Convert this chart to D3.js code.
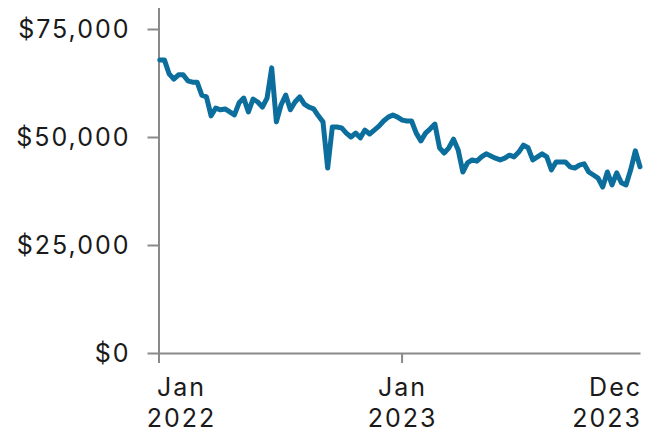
<!DOCTYPE html>
<html>
<head>
<meta charset="utf-8">
<script src="https://cdn.jsdelivr.net/npm/d3@7"></script>
<style>
  body { margin: 0; background: #fff; }
  text { font-family: Inter, "Liberation Sans", Arial, sans-serif; fill: #1a1a1a; letter-spacing: 2px; }
</style>
</head>
<body>
<div id="chart-area"></div>
<script>

let width = 656,
    height = 432;

// weekly values, first week starts 3 Jan 2022
let firstWeek = new Date(2022, 0, 3);
let values = [
  67800, 67800, 64600, 63400, 64400, 64400, 63000, 62700, 62700, 59700,
  59300, 54900, 56700, 56300, 56500, 55800, 55100, 57900, 59000, 55800,
  58800, 58100, 56900, 59000, 66000, 53500, 57400, 59700, 56300, 58100,
  59300, 57600, 56900, 56500, 54900, 53500, 42800, 52300, 52300, 52100,
  50900, 50000, 50900, 49800, 51600, 50700, 51600, 52500, 53700, 54600,
  55100, 54600, 53900, 53700, 53700, 50900, 49100, 50900, 51900, 53000,
  47500, 46300, 47500, 49500, 47000, 41900, 44000, 44700, 44400, 45400,
  46100, 45600, 45100, 44700, 45100, 45800, 45400, 46500, 48100, 47500,
  44700, 45400, 46100, 45400, 42400, 44200, 44200, 44200, 43100, 42800,
  43500, 43800, 41900, 41200, 40500, 38400, 41900, 38900, 41700, 39400,
  38900, 42400, 46800, 43100
];

let yTicks = [0, 25000, 50000, 75000];
let xTicks = [new Date(2022, 0, 1), new Date(2023, 0, 1)];
let xLabels = [
  { date: new Date(2022, 0, 1), line1: "Jan", line2: "2022", anchor: "middle", shift: 23 },
  { date: new Date(2023, 0, 1), line1: "Jan", line2: "2023", anchor: "middle", shift: 1 },
  { date: new Date(2023, 11, 25), line1: "Dec", line2: "2023", anchor: "end", shift: 2 }
];

let data = values.map(function(v, i) {
  return { date: d3.timeWeek.offset(firstWeek, i), value: v };
});

let svg = d3.select("#chart-area").append("svg")
    .attr("width", width)
    .attr("height", height);

let x = d3.scaleTime()
    .domain([new Date(2022, 0, 1), new Date(2023, 11, 25)])
    .range([158.5, 640]);

let y = d3.scaleLinear()
    .domain([0, 80000])
    .range([353, 7.4]);

// y axis
let yAxis = svg.append("g")
    .attr("transform", "translate(158.5,0)")
    .call(d3.axisLeft(y)
      .tickValues(yTicks)
      .tickFormat(d3.format("$,"))
      .tickSize(11)
      .tickSizeOuter(0)
      .tickPadding(17));

// x axis
let xAxis = svg.append("g")
    .attr("transform", "translate(0,353)")
    .call(d3.axisBottom(x)
      .tickValues(xTicks)
      .tickFormat("")
      .tickSize(10)
      .tickSizeOuter(0));

svg.selectAll(".domain, .tick line")
    .attr("stroke", "#8a8a8a")
    .attr("stroke-width", 2);

yAxis.selectAll("text")
    .style("font-size", "25px")
    .attr("fill", "#1a1a1a");

let lab = svg.selectAll(".xlab")
    .data(xLabels)
    .enter().append("text")
    .attr("class", "xlab")
    .attr("text-anchor", function(d) { return d.anchor; })
    .attr("transform", function(d) {
      return "translate(" + (x(d.date) + d.shift) + ",0)";
    })
    .style("font-size", "25px");

lab.append("tspan").attr("x", 0).attr("y", 396).text(function(d) { return d.line1; });
lab.append("tspan").attr("x", 0).attr("y", 427).text(function(d) { return d.line2; });

// the line
let line = d3.line()
    .x(function(d) { return x(d.date); })
    .y(function(d) { return y(d.value); });

svg.append("path")
    .datum(data)
    .attr("fill", "none")
    .attr("stroke", "#0b6e9d")
    .attr("stroke-width", 5)
    .attr("stroke-linejoin", "round")
    .attr("stroke-linecap", "round")
    .attr("d", line);

</script>
</body>
</html>
